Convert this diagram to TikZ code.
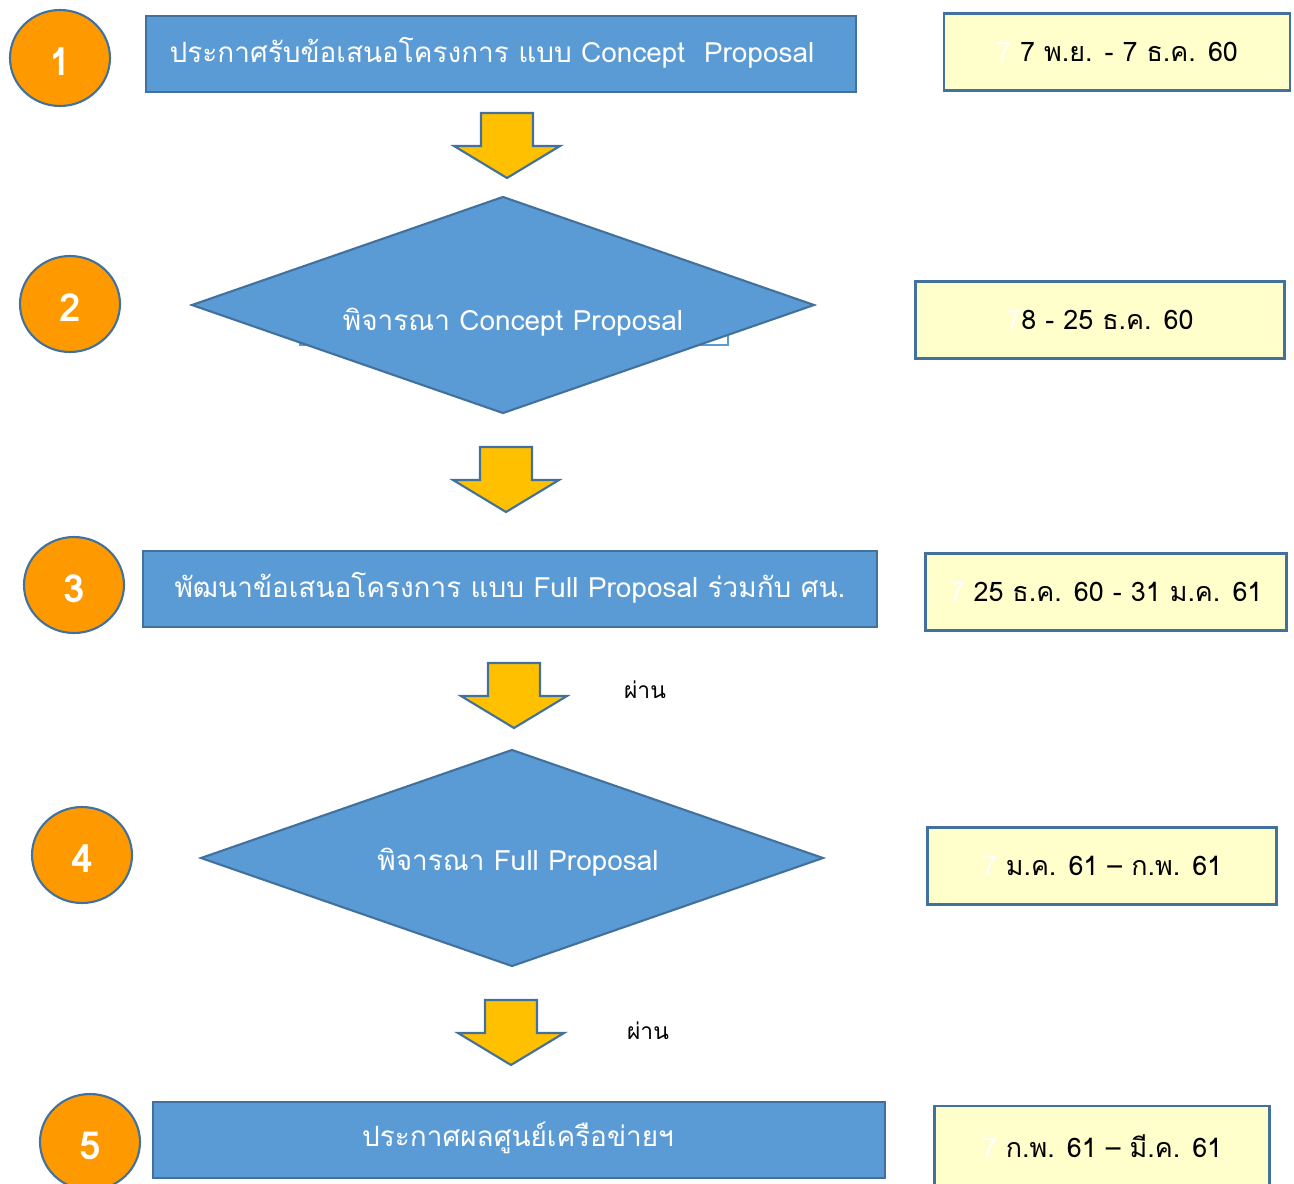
\documentclass[tikz,border=0pt]{standalone}
\usepackage{fontspec}
\setmainfont{Loma}[Script=Thai]
\usetikzlibrary{shapes.geometric, positioning}
\definecolor{boxblue}{HTML}{5B9BD5}
\definecolor{edgeblue}{HTML}{41719C}
\definecolor{numorange}{HTML}{FF9900}
\definecolor{arrowgold}{HTML}{FFC000}
\definecolor{datefill}{HTML}{FFFFCC}
\tikzstyle{stage} = [draw=edgeblue, fill=boxblue, rectangle, line width=1.2pt, minimum height=1.52cm]
\tikzstyle{check} = [draw=edgeblue, fill=boxblue, diamond, line width=1.2pt, shape aspect=2.87, minimum width=12.46cm, minimum height=4.34cm, inner sep=0pt]
\tikzstyle{lbl} = [text=white, font=\fontsize{15.9}{19}\selectfont]
\tikzstyle{num} = [draw=edgeblue, fill=numorange, ellipse, line width=1.2pt, minimum width=2cm, minimum height=1.92cm, text=white, font=\bfseries\fontsize{22}{26}\selectfont, text height=20.4pt, text depth=0pt]
\tikzstyle{datebox} = [draw=edgeblue, fill=datefill, rectangle, line width=1.6pt, minimum height=1.54cm, font=\fontsize{15.3}{18}\selectfont]
\tikzstyle{pass} = [font=\fontsize{13}{16}\selectfont]
\newcommand{\ghost}{{\color{white}7}}
\tikzset{downarrow/.pic={
  \draw[draw=edgeblue, fill=arrowgold, line width=1.2pt]
    (-26,0) -- (26,0) -- (26,33) -- (53,33) -- (0,65) -- (-53,33) -- (-26,33) -- cycle;}}

\begin{document}
\begin{tikzpicture}[x=0.02cm, y=-0.02cm]
  \useasboundingbox (0,0) rectangle (1294,1183);
  \clip (0,0) rectangle (1294,1183);
  % step 1
  \node[num] (n1) at (60,58) {1};
  \node[stage, minimum width=14.2cm] (b1) at (501,54) {};
  \node[lbl] (t1) at (492,53) {ประกาศรับข้อเสนอโครงการ แบบ Concept\ \ Proposal};
  \node[datebox, minimum width=6.92cm] (d1) at (1117,52) {\ghost\ 7 พ.ย. - 7 ธ.ค. 60};
  \pic (a1) at (507,113) {downarrow};
  % step 2
  \node[num] (n2) at (70,304) {2};
  \draw[boxblue, line width=0.6pt] (300,300) rectangle (728,345);
  \node[check] (c2) at (503,305) {};
  \node[lbl] (t2) at (513,322) {พิจารณา Concept Proposal};
  \node[datebox, minimum width=7.38cm] (d2) at (1100,320) {\ghost8 - 25 ธ.ค. 60};
  \pic (a2) at (506,447) {downarrow};
  % step 3
  \node[num] (n3) at (74,585) {3};
  \node[stage, minimum width=14.68cm] (b3) at (510,589) {};
  \node[lbl] (t3) at (510,588) {พัฒนาข้อเสนอโครงการ แบบ Full Proposal ร่วมกับ ศน.};
  \node[datebox, minimum width=7.22cm] (d3) at (1106,592) {\ghost\ 25 ธ.ค. 60 - 31 ม.ค. 61};
  \pic (a3) at (514,663) {downarrow};
  \node[pass] (p3) at (645,690) {ผ่าน};
  % step 4
  \node[num] (n4) at (82,855) {4};
  \node[check] (c4) at (512,858) {};
  \node[lbl] (t4) at (518,862) {พิจารณา Full Proposal};
  \node[datebox, minimum width=6.98cm] (d4) at (1102,866) {\ghost\ ม.ค. 61 – ก.พ. 61};
  \pic (a4) at (511,1000) {downarrow};
  \node[pass] (p4) at (648,1031) {ผ่าน};
  % step 5
  \node[num] (n5) at (90,1142) {5};
  \node[stage, minimum width=14.64cm] (b5) at (519,1140) {};
  \node[lbl] (t5) at (518,1138) {ประกาศผลศูนย์เครือข่ายฯ};
  \node[datebox, minimum width=6.7cm, minimum height=1.6cm] (d5) at (1102,1146) {\ghost\ ก.พ. 61 – มี.ค. 61};
\end{tikzpicture}
\end{document}
